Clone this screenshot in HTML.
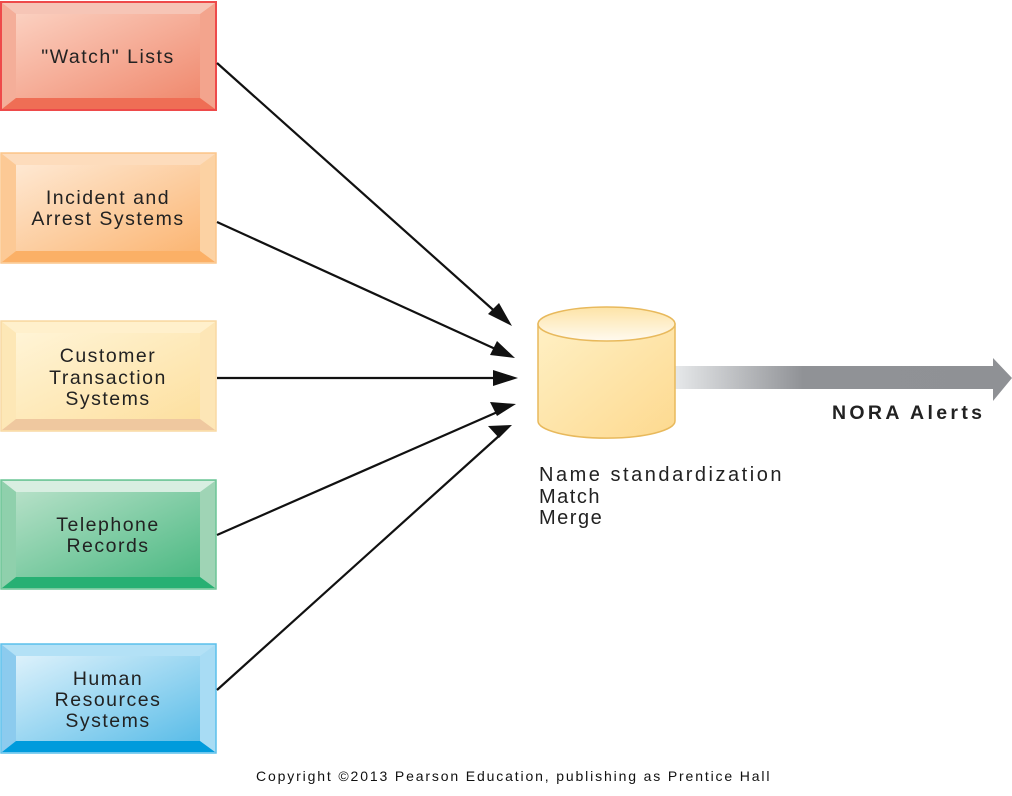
<!DOCTYPE html>
<html><head><meta charset="utf-8"><style>
html,body{margin:0;padding:0;background:#fff;}
svg{display:block;font-family:"Liberation Sans",Arial,sans-serif;}
.bt{font-size:19.5px;letter-spacing:1.5px;fill:#222;}
</style></head><body>
<svg width="1012" height="796" viewBox="0 0 1012 796" xmlns="http://www.w3.org/2000/svg">
<defs>
<linearGradient id="gr" x1="0" y1="0" x2="1" y2="1"><stop offset="0" stop-color="#fbd0c0"/><stop offset="1" stop-color="#f08a6f"/></linearGradient>
<linearGradient id="go" x1="0" y1="0" x2="1" y2="1"><stop offset="0" stop-color="#fee8d2"/><stop offset="1" stop-color="#fbb674"/></linearGradient>
<linearGradient id="gy" x1="0" y1="0" x2="1" y2="1"><stop offset="0" stop-color="#fff4d6"/><stop offset="1" stop-color="#fde0a0"/></linearGradient>
<linearGradient id="gg" x1="0" y1="0" x2="1" y2="1"><stop offset="0" stop-color="#b5e0c7"/><stop offset="1" stop-color="#4cb983"/></linearGradient>
<linearGradient id="gb" x1="0" y1="0" x2="1" y2="1"><stop offset="0" stop-color="#dcf1fb"/><stop offset="1" stop-color="#5bbde8"/></linearGradient>
<linearGradient id="cyl" x1="0" y1="0" x2="1" y2="1"><stop offset="0" stop-color="#fff0c4"/><stop offset="1" stop-color="#fdd98f"/></linearGradient>
<linearGradient id="cyltop" x1="0" y1="1" x2="0" y2="0"><stop offset="0" stop-color="#fffaf0"/><stop offset="1" stop-color="#fde3a6"/></linearGradient>
<linearGradient id="arr" x1="0" y1="0" x2="1" y2="0"><stop offset="0" stop-color="#e6e8ea"/><stop offset="0.4" stop-color="#909296"/><stop offset="1" stop-color="#8f9195"/></linearGradient>
</defs>

<g>
<rect x="1" y="2" width="215" height="108" fill="#f3a48d" stroke="#ee4a4a" stroke-width="2"/>
<polygon points="2,3 215,3 200,14 16,14" fill="#f6c5b6"/>
<polygon points="2,3 16,14 16,98 2,109" fill="#f4ae99"/>
<polygon points="2,109 16,98 200,98 215,109" fill="#ef6e55"/>
<rect x="16" y="14" width="184" height="84" fill="url(#gr)"/>
<text x="108" y="63" text-anchor="middle" class="bt">"Watch" Lists</text>
</g>
<g>
<rect x="1" y="153" width="215" height="110" fill="#fcd2a3" stroke="#fbc68c" stroke-width="1.5"/>
<polygon points="2,154 215,154 200,165 16,165" fill="#fddcbc"/>
<polygon points="2,154 16,165 16,251 2,262" fill="#fcc995"/>
<polygon points="2,262 16,251 200,251 215,262" fill="#fbb066"/>
<rect x="16" y="165" width="184" height="86" fill="url(#go)"/>
<text x="108" y="204" text-anchor="middle" class="bt">Incident and</text>
<text x="108" y="225" text-anchor="middle" class="bt">Arrest Systems</text>
</g>
<g>
<rect x="1" y="321" width="215" height="110" fill="#fde6b6" stroke="#f8d9a4" stroke-width="1.5"/>
<polygon points="2,322 215,322 200,333 16,333" fill="#fff0cc"/>
<polygon points="2,322 16,333 16,419 2,430" fill="#fde7b6"/>
<polygon points="2,430 16,419 200,419 215,430" fill="#efc89f"/>
<rect x="16" y="333" width="184" height="86" fill="url(#gy)"/>
<text x="108" y="362" text-anchor="middle" class="bt">Customer</text>
<text x="108" y="384" text-anchor="middle" class="bt">Transaction</text>
<text x="108" y="405" text-anchor="middle" class="bt">Systems</text>
</g>
<g>
<rect x="1" y="480" width="215" height="109" fill="#9fd4b5" stroke="#6cc596" stroke-width="1.5"/>
<polygon points="2,481 215,481 200,492 16,492" fill="#d8eee1"/>
<polygon points="2,481 16,492 16,577 2,588" fill="#8fd0ac"/>
<polygon points="2,588 16,577 200,577 215,588" fill="#27b073"/>
<rect x="16" y="492" width="184" height="85" fill="url(#gg)"/>
<text x="108" y="531" text-anchor="middle" class="bt">Telephone</text>
<text x="108" y="552" text-anchor="middle" class="bt">Records</text>
</g>
<g>
<rect x="1" y="644" width="215" height="109" fill="#a8dcf4" stroke="#5cc0ec" stroke-width="1.5"/>
<polygon points="2,645 215,645 200,656 16,656" fill="#b3e1f6"/>
<polygon points="2,645 16,656 16,741 2,752" fill="#8ccbee"/>
<polygon points="2,752 16,741 200,741 215,752" fill="#009bdc"/>
<rect x="16" y="656" width="184" height="85" fill="url(#gb)"/>
<text x="108" y="685" text-anchor="middle" class="bt">Human</text>
<text x="108" y="706" text-anchor="middle" class="bt">Resources</text>
<text x="108" y="727" text-anchor="middle" class="bt">Systems</text>
</g>

<g stroke="#111" stroke-width="2.2" fill="none">
<line x1="217" y1="63" x2="500" y2="316"/>
<line x1="217" y1="222" x2="502" y2="352"/>
<line x1="217" y1="378" x2="504" y2="378"/>
<line x1="217" y1="535" x2="502" y2="410"/>
<line x1="217" y1="690" x2="500" y2="435"/>
</g>
<g fill="#111">
<polygon points="512,326 488,314 499,303"/>
<polygon points="515,358 490,355 497,341"/>
<polygon points="518,378 493,370 493,386"/>
<polygon points="516,404 497,416 490,402"/>
<polygon points="512,425 499,438 488,426"/>
</g>

<rect x="675" y="366" width="320" height="23" fill="url(#arr)"/>
<polygon points="993,358 1012,378 993,401" fill="#8f9195"/>
<text x="832" y="419" font-size="19.5" font-weight="bold" fill="#222" textLength="150" lengthAdjust="spacing">NORA Alerts</text>

<path d="M538,324 L538,421 A68,17 0 0 0 675,421 L675,324 Z" fill="url(#cyl)" stroke="#e8b95c" stroke-width="1.5"/>
<ellipse cx="606.5" cy="324" rx="68.5" ry="17" fill="url(#cyltop)" stroke="#e8b95c" stroke-width="1.5"/>

<text x="539" y="481" font-size="20" fill="#222" letter-spacing="1.5" textLength="244" lengthAdjust="spacing">Name standardization</text>
<text x="539" y="503" font-size="20" fill="#222" letter-spacing="1.5">Match</text>
<text x="539" y="524" font-size="20" fill="#222" letter-spacing="1.5">Merge</text>

<text x="256" y="781" font-size="14" fill="#111" letter-spacing="0.5" textLength="514" lengthAdjust="spacing">Copyright ©2013 Pearson Education, publishing as Prentice Hall</text>
</svg>
</body></html>
